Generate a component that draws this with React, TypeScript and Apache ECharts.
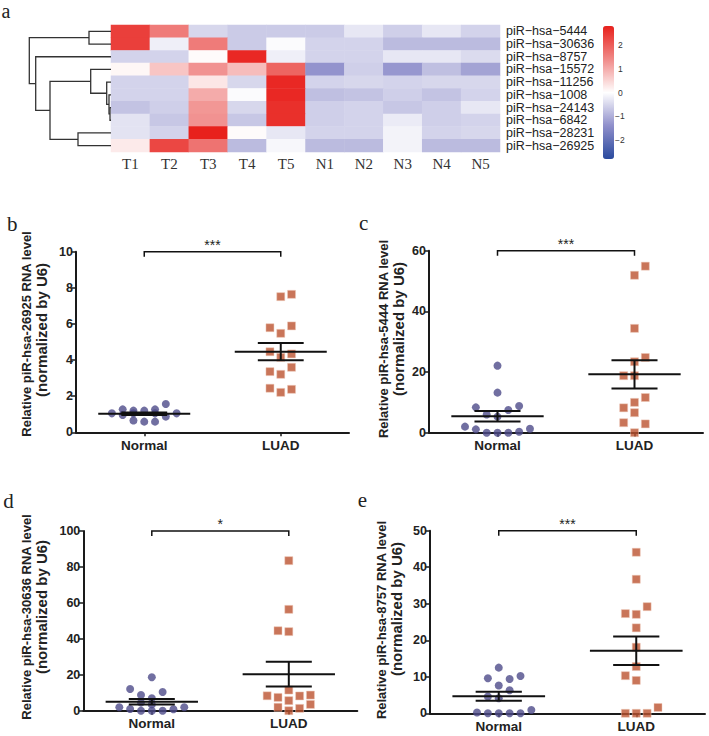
import React, { useEffect, useRef } from 'react';
import * as echarts from 'echarts';

// ---------- Heatmap data ----------
const heatCols = ['T1', 'T2', 'T3', 'T4', 'T5', 'N1', 'N2', 'N3', 'N4', 'N5'];
const heatRows = [
  'piR−hsa−5444', 'piR−hsa−30636', 'piR−hsa−8757', 'piR−hsa−15572', 'piR−hsa−11256',
  'piR−hsa−1008', 'piR−hsa−24143', 'piR−hsa−6842', 'piR−hsa−28231', 'piR−hsa−26925',
];
const heatValues = [
  [2.4, 1.6, -0.5, -0.65, -0.65, -0.65, -0.3, -0.6, -0.3, -0.55],
  [2.4, -0.2, 1.6, -0.65, -0.05, -0.55, -0.55, -0.85, -0.85, -0.85],
  [-0.55, -0.55, 0.05, 2.7, -0.2, -0.55, -0.55, -0.3, -0.3, -0.45],
  [0.1, 0.7, 1.3, 0.8, 1.9, -1.35, -0.6, -1.3, -0.8, -1.15],
  [-0.55, -0.55, 0.3, -0.5, 2.7, -0.55, -0.5, -0.55, -0.5, -0.5],
  [-0.55, -0.55, 1.0, -0.05, 2.7, -0.8, -0.75, -0.6, -0.75, -0.55],
  [-0.75, -0.6, 1.25, -0.5, 2.6, -0.6, -0.55, -0.7, -0.6, -0.3],
  [-0.35, -0.7, 1.3, -0.7, 2.6, -0.6, -0.55, -0.25, -0.6, -0.55],
  [-0.35, -0.55, 2.8, 0.05, -0.3, -0.55, -0.55, -0.15, -0.55, -0.5],
  [0.25, 2.3, 1.7, -0.85, -0.1, -0.85, -0.85, -0.15, -0.85, -0.85],
];
// hclust-style merges: negative = leaf (-(row+1)), positive = earlier merge (1-based), then height
const dendroMerges = [
  [-7, -8, 0.1],
  [-6, 1, 0.2],
  [-5, 2, 0.43],
  [-4, 3, 2.03],
  [-9, -10, 3.3],
  [4, 5, 6.1],
  [-3, 6, 7.53],
  [-1, -2, 2.2],
  [8, 7, 8.17],
];
const colorbarTicks = [2, 1, 0, -1, -2];
const colorRange = [-2.8, 2.8];

// ---------- Scatter panels data ----------
const groups = ['Normal', 'LUAD'];

const bNormal = [1.05, 1.27, 0.96, 1.2, 0.65, 1.05, 1.2, 0.59, 1.27, 0.59, 1.05, 1.57, 0.87, 1.05];
const bNormalJit = [-3, -2, -2, -1, -1, -1, 0, 0, 1, 1, 1, 2, 2, 3];
const bLuad = [5.79, 4.46, 3.36, 2.44, 7.51, 5.48, 4.15, 3.21, 2.21, 7.64, 5.89, 4.34, 3.6, 2.38];
const bLuadJit = [-1, -1, -1, -1, 0, 0, 0, 0, 0, 1, 1, 1, 1, 1];

const cNormal = [22.1, 13.2, 8.35, 8.8, 7.5, 6.0, 5.3, 2.0, 1.1, 0, 0, 0, 0.3, 1.3];
const cNormalJit = [0, 0, -2, 2, 1, -1, 0, -3, -2, -1, 0, 1, 2, 3];
const cLuad = [54.9, 51.9, 34.4, 23.4, 24.8, 18.8, 18.8, 11.6, 10.0, 8.2, 6.6, 3.3, 2.9, 0];
const cLuadJit = [1, 0, 0, 0, 1, -1, 0, 1, 0, -1, 0, -1, 1, 0];

const dNormal = [18.6, 12.1, 10.4, 8.7, 6.9, 4.5, 3.5, 1.9, 0.9, 0, 0, 0, 0.8, 1.9];
const dNormalJit = [0, -2, 1, -1, 0, -1, 0, -3, -2, -1, 0, 1, 2, 3];
const dLuad = [83.5, 56.4, 44.5, 44, 11.5, 8.3, 7.4, 5.6, 8.2, 8.7, 3.5, 1.9, 1.3, 0];
const dLuadJit = [0, 0, -1, 0, 0, -2, -1, 0, 1, 2, 2, -1, 1, 0];

const eNormal = [12.5, 9.6, 9.4, 10.2, 7.6, 6.3, 4.6, 4.1, 0.2, 0, 0, 0, 0, 0.9];
const eNormalJit = [0, -1, 1, 2, 0, 1, -1, 0, -2, -1, 0, 1, 2, 3];
const eLuad = [44.1, 36.7, 29.2, 27.3, 27.1, 23.4, 18.1, 12.8, 10.3, 9.0, 1.6, 0, 0, 0];
const eLuadJit = [0, 0, 1, -1, 0, 0, 0, 0, -1, 0, 2, -1, 0, 1];

const panelLetters = ['b', 'c', 'd', 'e'];
const panelGenes = ['piR-hsa-26925', 'piR-hsa-5444', 'piR-hsa-30636', 'piR-hsa-8757'];
const panelMax = [10, 60, 100, 50];
const panelInterval = [2, 20, 20, 10];
const panelStars = ['***', '***', '*', '***'];
const panelNormal = [bNormal, cNormal, dNormal, eNormal];
const panelNormalJit = [bNormalJit, cNormalJit, dNormalJit, eNormalJit];
const panelLuad = [bLuad, cLuad, dLuad, eLuad];
const panelLuadJit = [bLuadJit, cLuadJit, dLuadJit, eLuadJit];

// ---------- Layout / style ----------
const SANS = 'Arial, "Liberation Sans", sans-serif';
const SERIF = '"Times New Roman", "Liberation Serif", serif';
const INK = '#1a1a1a';
const panelLayout = [
  { left: 76, top: 251.7, width: 273, height: 180.6, letter: [7, 226], t1: [26.7, 334], t2: [41.7, 330] },
  { left: 429, top: 250.7, width: 274, height: 182, letter: [359, 225], t1: [383.3, 339], t2: [398.3, 329] },
  { left: 83.3, top: 531, width: 274, height: 179.7, letter: [3.3, 503], t1: [26.7, 617], t2: [41.7, 607] },
  { left: 430, top: 530.7, width: 275, height: 182.6, letter: [357.7, 502], t1: [381.7, 620], t2: [396.7, 609] },
];
const LETTER_DROP = 8; // distance from text baseline to bottom of its box
const JIT = 0.079;
const MEAN_HALF = 0.337;
const SEM_HALF = 0.168;

function meanSem(a: number[]) {
  const n = a.length;
  const m = a.reduce((s, v) => s + v, 0) / n;
  const sd = Math.sqrt(a.reduce((s, v) => s + (v - m) * (v - m), 0) / (n - 1));
  return [m, sd / Math.sqrt(n)];
}

function dendroSegments() {
  const pos: { y: number; h: number }[] = [];
  const segs: number[][][] = [];
  const node = (id: number) => (id < 0 ? { y: -id - 1 + 0.5, h: 0 } : pos[id - 1]);
  dendroMerges.forEach(([a, b, h]) => {
    const A = node(a);
    const B = node(b);
    segs.push([[A.h, A.y], [h, A.y], [h, B.y], [B.h, B.y]]);
    pos.push({ y: (A.y + B.y) / 2, h });
  });
  return segs;
}

function buildOption() {
  const heatData: number[][] = [];
  heatValues.forEach((row, r) => row.forEach((v, c) => heatData.push([c, r, v])));

  const xAxis: any[] = [
    {
      type: 'category', gridIndex: 0, data: heatCols, position: 'bottom',
      axisLine: { show: false }, axisTick: { show: false }, splitArea: { show: false },
      axisLabel: { fontFamily: SERIF, fontSize: 15, color: '#333', margin: 4, interval: 0 },
    },
    { type: 'value', gridIndex: 1, min: 0, max: 8.2, inverse: true, show: false },
  ];
  const yAxis: any[] = [
    {
      type: 'category', gridIndex: 0, data: heatRows, inverse: true, position: 'right',
      axisLine: { show: false }, axisTick: { show: false }, splitArea: { show: false },
      axisLabel: { fontFamily: SANS, fontSize: 12.5, lineHeight: 12, color: '#222', margin: 6, interval: 0 },
    },
    { type: 'value', gridIndex: 1, min: 0, max: 10, inverse: true, show: false },
  ];
  const grid: any[] = [
    { left: 111, top: 25, width: 389, height: 127 },
    { left: 29, top: 25, width: 82, height: 127 },
  ];
  const series: any[] = [
    {
      type: 'heatmap', xAxisIndex: 0, yAxisIndex: 0, data: heatData, silent: true,
      itemStyle: { borderWidth: 0 },
    },
    {
      type: 'lines', coordinateSystem: 'cartesian2d', xAxisIndex: 1, yAxisIndex: 1,
      polyline: true, silent: true,
      data: dendroSegments().map((c) => ({ coords: c })),
      lineStyle: { color: '#333', width: 1.3, opacity: 1 },
    },
  ];
  const graphic: any[] = [
    { type: 'text', x: 1.5, y: 13.3 + LETTER_DROP, style: { text: 'a', font: `20px ${SERIF}`, fill: '#222', verticalAlign: 'bottom' } },
  ];

  // colorbar labels
  const cbTop = 26, cbH = 133;
  colorbarTicks.forEach((t) => {
    const y = cbTop + ((colorRange[1] - t) / (colorRange[1] - colorRange[0])) * cbH;
    graphic.push({
      type: 'text', x: t < 0 ? 615 : 618, y,
      style: { text: t < 0 ? '−' + Math.abs(t) : String(t), font: `8.5px ${SANS}`, fill: '#333', verticalAlign: 'middle' },
    });
  });

  panelLayout.forEach((L, k) => {
    const g = 2 + k;
    grid.push({ left: L.left, top: L.top, width: L.width, height: L.height });
    xAxis.push({
      type: 'category', gridIndex: g, data: groups, boundaryGap: true,
      axisLine: { show: true, lineStyle: { color: INK, width: 2 } },
      axisTick: { show: true, alignWithLabel: true, length: 4, lineStyle: { color: INK, width: 1.5 } },
      axisLabel: { fontFamily: SANS, fontWeight: 'bold', fontSize: 13.5, color: '#222', margin: 6, interval: 0 },
    });
    const valIdx = xAxis.length;
    xAxis.push({ type: 'value', gridIndex: g, min: 0, max: 2, show: false });
    const yIdx = yAxis.length;
    yAxis.push({
      type: 'value', gridIndex: g, min: 0, max: panelMax[k], interval: panelInterval[k],
      axisLine: { show: true, lineStyle: { color: INK, width: 2 } },
      axisTick: { show: true, length: 5, lineStyle: { color: INK, width: 1.5 } },
      axisLabel: { fontFamily: SANS, fontWeight: 'bold', fontSize: 12.5, color: '#222', margin: 3 },
      splitLine: { show: false },
    });

    series.push({
      type: 'scatter', xAxisIndex: valIdx, yAxisIndex: yIdx, clip: false, silent: true,
      symbol: 'circle', symbolSize: 8,
      itemStyle: { color: '#4e4b8a' },
      data: panelNormal[k].map((v, i) => [0.5 + panelNormalJit[k][i] * JIT, v]),
      z: 2,
    });
    series.push({
      type: 'scatter', xAxisIndex: valIdx, yAxisIndex: yIdx, clip: false, silent: true,
      symbol: 'rect', symbolSize: 8,
      itemStyle: { color: '#bb5230', borderColor: '#efc9b8', borderWidth: 0.6 },
      data: panelLuad[k].map((v, i) => [1.5 + panelLuadJit[k][i] * JIT, v]),
      z: 2,
    });
    const [m1, s1] = meanSem(panelNormal[k]);
    const [m2, s2] = meanSem(panelLuad[k]);
    series.push({
      type: 'custom', xAxisIndex: valIdx, yAxisIndex: yIdx, silent: true, clip: false, z: 5,
      data: [[0.5, m1, s1], [1.5, m2, s2]],
      renderItem: (_p: any, api: any) => {
        const c = api.value(0), m = api.value(1), s = api.value(2);
        const st = { stroke: '#111', lineWidth: 2 };
        const seg = (xa: number, ya: number, xb: number, yb: number) => {
          const a = api.coord([xa, ya]);
          const b = api.coord([xb, yb]);
          return { type: 'line', shape: { x1: a[0], y1: a[1], x2: b[0], y2: b[1] }, style: st };
        };
        return {
          type: 'group',
          children: [
            seg(c - MEAN_HALF, m, c + MEAN_HALF, m),
            seg(c - SEM_HALF, m + s, c + SEM_HALF, m + s),
            seg(c - SEM_HALF, m - s, c + SEM_HALF, m - s),
            seg(c, m - s, c, m + s),
          ],
        };
      },
    });
    series.push({
      type: 'custom', xAxisIndex: valIdx, yAxisIndex: yIdx, silent: true, clip: false, z: 5,
      data: [[0.5, 1.5, panelMax[k]]],
      renderItem: (_p: any, api: any) => {
        const a = api.coord([api.value(0), api.value(2)]);
        const b = api.coord([api.value(1), api.value(2)]);
        return {
          type: 'group',
          children: [
            {
              type: 'polyline',
              shape: { points: [[a[0], a[1] + 5], a, b, [b[0], b[1] + 5]] },
              style: { stroke: '#111', lineWidth: 1.5, fill: 'none' },
            },
            {
              type: 'text',
              x: (a[0] + b[0]) / 2, y: a[1] - 7,
              style: { text: panelStars[k], font: `14px ${SANS}`, fill: '#222', align: 'center', verticalAlign: 'middle' },
            },
          ],
        };
      },
    });

    graphic.push({
      type: 'text', x: L.letter[0], y: L.letter[1] + LETTER_DROP,
      style: { text: panelLetters[k], font: `21px ${SERIF}`, fill: '#222', verticalAlign: 'bottom' },
    });
    graphic.push({
      type: 'text', x: L.t1[0], y: L.t1[1], rotation: Math.PI / 2,
      style: { text: `Relative ${panelGenes[k]} RNA level`, font: `bold 13px ${SANS}`, fill: '#222', align: 'center', verticalAlign: 'middle' },
    });
    graphic.push({
      type: 'text', x: L.t2[0], y: L.t2[1], rotation: Math.PI / 2,
      style: { text: '(normalized by U6)', font: `bold 15px ${SANS}`, fill: '#222', align: 'center', verticalAlign: 'middle' },
    });
  });

  return {
    animation: false,
    backgroundColor: '#ffffff',
    grid,
    xAxis,
    yAxis,
    visualMap: {
      type: 'continuous', min: colorRange[0], max: colorRange[1], seriesIndex: 0,
      calculable: false, show: true, left: 603, top: 26, itemWidth: 11, itemHeight: 133,
      padding: 0, text: null, showLabel: false,
      inRange: { color: ['#2a4a9e', '#8f8fcb', '#ffffff', '#f08a88', '#e8211c'] },
    },
    series,
    graphic,
  };
}

export default function App() {
  const ref = useRef<HTMLDivElement>(null);
  useEffect(() => {
    if (!ref.current) return;
    const chart = echarts.init(ref.current, undefined, { renderer: 'svg' });
    chart.setOption(buildOption() as any);
    return () => chart.dispose();
  }, []);
  return (
    <div
      ref={ref}
      style={{ position: 'fixed', left: 0, top: 0, width: 709, height: 736, background: '#fff' }}
    />
  );
}
